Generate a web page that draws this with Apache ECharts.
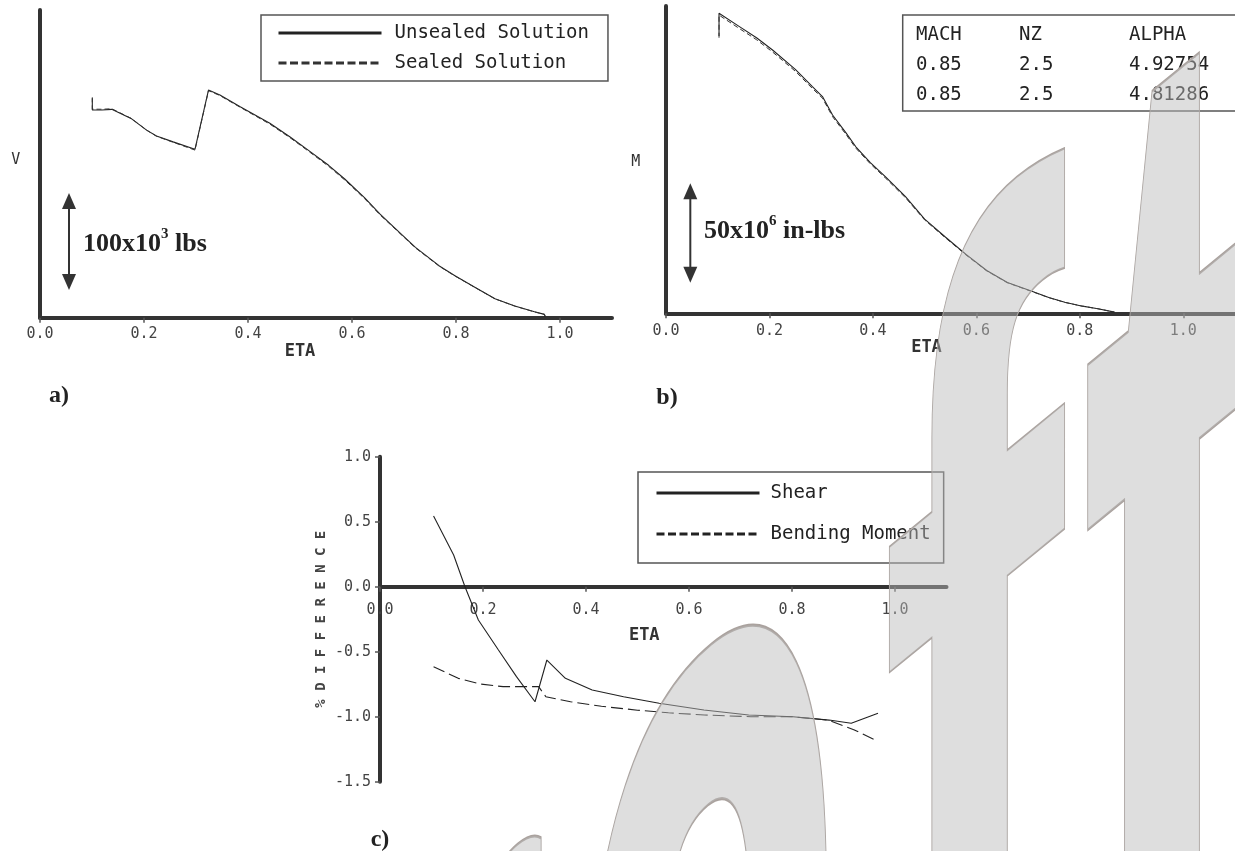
<!DOCTYPE html>
<html><head><meta charset="utf-8">
<script src="https://cdn.jsdelivr.net/npm/echarts@6/dist/echarts.min.js"></script>
<style>html,body{margin:0;padding:0;background:#fff}#c{width:1235px;height:851px}</style>
</head><body><div id="c"></div>
<script>
// ---- data ----
const xTickVals = [0, 0.2, 0.4, 0.6, 0.8, 1.0];

// a) shear V (10^3 lbs) vs ETA
const etaV = [0.1006,0.1006,0.119,0.138,0.175,0.205,0.224,0.256,0.298,0.324,0.346,0.385,0.442,0.481,0.517,0.555,0.586,0.624,0.654,0.684,0.722,0.768,0.798,0.837,0.875,0.913,0.951,0.970,0.972];
const vUnsealed = [224.6,212.6,212.6,213.3,204,192,186,180,172.4,233,228,216,199,185,171,156,142,123,106,91,72,53,43,31,19.5,12,6,3.4,0.7];
const vSealed   = [225.6,213.5,213.4,213.9,204.2,192.0,185.8,179.6,171.6,232.4,227.4,215.4,198.2,184.2,170.2,155.0,141.0,122.0,105.2,90.3,71.4,52.6,42.7,30.8,19.3,11.9,5.9,3.4,0.7];

// b) bending moment M (10^6 in-lbs) vs ETA
const etaM = [0.1025,0.1025,0.142,0.175,0.206,0.25,0.283,0.3025,0.322,0.348,0.367,0.395,0.424,0.463,0.5,0.54,0.58,0.62,0.66,0.706,0.74,0.771,0.805,0.835,0.867];
const mUnsealed = [139.9,151.3,144.6,139,132.8,123,114.3,109.3,100,91,84,76,68.9,58.8,47.5,38.5,29.7,21.6,15.5,11.2,8,5.6,3.6,2.3,0.6];
const mSealed   = [139.0,150.4,143.6,138.0,131.8,122.1,113.4,108.5,99.2,90.2,83.3,75.4,68.3,58.3,47.1,38.1,29.4,21.4,15.4,11.1,7.9,5.5,3.6,2.3,0.6];

// c) % difference
const etaShear = [0.104,0.143,0.165,0.191,0.230,0.265,0.301,0.324,0.36,0.412,0.473,0.542,0.629,0.716,0.802,0.872,0.915,0.967];
const shearDiff = [0.544,0.244,0.0,-0.256,-0.487,-0.692,-0.885,-0.564,-0.705,-0.795,-0.846,-0.897,-0.949,-0.987,-1.0,-1.026,-1.051,-0.974];
const etaBend = [0.104,0.152,0.195,0.239,0.308,0.322,0.37,0.43,0.5,0.56,0.63,0.72,0.8,0.87,0.92,0.967];
const bendDiff = [-0.615,-0.705,-0.749,-0.769,-0.769,-0.846,-0.885,-0.92,-0.95,-0.97,-0.987,-1.0,-1.0,-1.026,-1.10,-1.19];

// flight condition table
const tableHead = ['MACH', 'NZ', 'ALPHA'];
const tableRows = [['0.85', '2.5', '4.92754'], ['0.85', '2.5', '4.81286']];

// scale bar annotations (data coordinates)
const scaleA = { eta: 0.0558, from: 28.4, to: 127.6 };
const scaleB = { eta: 0.047, from: 15.4, to: 65.6 };

// watermark letters (visible part of "Draft")
const wmLetters = ['r', 'a', 'f', 't'];

// ---- chart ----
const zip = (xs, ys) => xs.map((x, i) => [x, ys[i]]);
const MONO = '"DejaVu Sans Mono", monospace';
const SERIF = '"Liberation Serif", "Times New Roman", serif';
const AX = '#333';

function xAxisCfg(gi, nameGap, shift, margin, offset) {
  return {
    type: 'value', gridIndex: gi, min: 0, max: 1.1, offset: offset || 0,
    axisLine: { onZero: false, lineStyle: { color: AX, width: 4 } },
    axisTick: { customValues: xTickVals, length: 5, lineStyle: { color: '#555', width: 1.5 } },
    axisLabel: { customValues: xTickVals, formatter: v => v.toFixed(1), fontFamily: MONO, fontSize: 15, color: '#444', margin: margin },
    splitLine: { show: false },
    name: 'ETA', nameLocation: 'middle', nameGap: nameGap,
    nameTextStyle: { fontFamily: MONO, fontSize: 17, fontWeight: 'bold', color: '#333', padding: [0, shift, 0, 0] }
  };
}
function yAxisPlain(gi, max) {
  return {
    type: 'value', gridIndex: gi, min: 0, max: max,
    axisLine: { show: true, onZero: false, lineStyle: { color: AX, width: 4 } },
    axisTick: { show: false }, axisLabel: { show: false }, splitLine: { show: false }
  };
}
const lineSolid = { color: '#222', width: 1.1 };
const legendCommon = {
  orient: 'vertical', itemWidth: 103, itemHeight: 14, selectedMode: false,
  borderColor: '#555', borderWidth: 1.5, backgroundColor: '#fff',
  lineStyle: { width: 3 }, itemStyle: { opacity: 0 }
};

const option = {
  backgroundColor: '#fff',
  animation: false,
  grid: [
    { left: 40, top: 10, width: 572, height: 307.7 },
    { left: 666, top: 6, width: 572, height: 307.3 },
    { left: 380, top: 456.7, width: 566.5, height: 325 }
  ],
  xAxis: [xAxisCfg(0, 24, 52, 9), xAxisCfg(1, 26, 48, 10), xAxisCfg(2, 40, 38, 16, -195)],
  yAxis: [
    yAxisPlain(0, 315),
    yAxisPlain(1, 155),
    {
      type: 'value', gridIndex: 2, min: -1.5, max: 1.0, interval: 0.5,
      axisLine: { show: true, onZero: false, lineStyle: { color: AX, width: 4 } },
      axisTick: { show: true, length: 5, lineStyle: { color: '#555', width: 1.5 } },
      axisLabel: { formatter: v => v.toFixed(1), fontFamily: MONO, fontSize: 15, color: '#444', margin: 9 },
      splitLine: { show: false },
      name: '% D I F F E R E N C E', nameLocation: 'middle', nameGap: 52, nameRotate: 90,
      nameTextStyle: { fontFamily: MONO, fontSize: 14, fontWeight: 'bold', color: '#444' }
    }
  ],
  legend: [
    Object.assign({}, legendCommon, {
      data: ['Unsealed Solution', { name: 'Sealed Solution', lineStyle: { type: [8, 3.5] } }],
      left: 261, top: 15, padding: [8, 19, 8, 16], itemGap: 10,
      textStyle: { fontFamily: MONO, fontSize: 19, color: '#222', lineHeight: 20, padding: [0, 0, 0, 8] }
    }),
    Object.assign({}, legendCommon, {
      data: ['Shear', { name: 'Bending Moment', lineStyle: { type: [8, 3.5] } }],
      left: 638, top: 472, padding: [11, 13, 19, 17], itemGap: 21,
      textStyle: { fontFamily: MONO, fontSize: 19, color: '#222', lineHeight: 20, padding: [0, 0, 0, 6] }
    })
  ],
  series: [
    { type: 'line', name: 'Unsealed Solution', xAxisIndex: 0, yAxisIndex: 0, data: zip(etaV, vUnsealed), symbol: 'none', itemStyle: { color: '#222' }, lineStyle: lineSolid },
    { type: 'line', name: 'Sealed Solution', xAxisIndex: 0, yAxisIndex: 0, data: zip(etaV, vSealed), symbol: 'none', itemStyle: { color: '#222' }, lineStyle: { color: '#333', width: 1, type: [5, 3] } },
    { type: 'line', name: 'Unsealed Solution', xAxisIndex: 1, yAxisIndex: 1, data: zip(etaM, mUnsealed), symbol: 'none', itemStyle: { color: '#222' }, lineStyle: lineSolid },
    { type: 'line', name: 'Sealed Solution', xAxisIndex: 1, yAxisIndex: 1, data: zip(etaM, mSealed), symbol: 'none', itemStyle: { color: '#222' }, lineStyle: { color: '#333', width: 1, type: [5, 3] } },
    { type: 'line', name: 'Shear', xAxisIndex: 2, yAxisIndex: 2, data: zip(etaShear, shearDiff), symbol: 'none', itemStyle: { color: '#222' }, lineStyle: lineSolid },
    { type: 'line', name: 'Bending Moment', xAxisIndex: 2, yAxisIndex: 2, data: zip(etaBend, bendDiff), symbol: 'none', itemStyle: { color: '#222' }, lineStyle: { color: '#222', width: 1.1, type: [12, 5] } }
  ]
};

const chart = echarts.init(document.getElementById('c'), null, { renderer: 'canvas' });
chart.setOption(option);

// annotations positioned from data coordinates
function arrowBar(gi, s) {
  const p0 = chart.convertToPixel({ gridIndex: gi }, [s.eta, s.from]);
  const p1 = chart.convertToPixel({ gridIndex: gi }, [s.eta, s.to]);
  const x = p0[0], yb = p0[1], yt = p1[1], hw = 7, hh = 16;
  return [
    { type: 'line', shape: { x1: x, y1: yt + hh - 2, x2: x, y2: yb - hh + 2 }, style: { stroke: '#333', lineWidth: 2 } },
    { type: 'polygon', shape: { points: [[x, yt], [x - hw, yt + hh], [x + hw, yt + hh]] }, style: { fill: '#333' } },
    { type: 'polygon', shape: { points: [[x, yb], [x - hw, yb - hh], [x + hw, yb - hh]] }, style: { fill: '#333' } }
  ];
}
const rich = {
  n: { fontFamily: SERIF, fontSize: 26, fontWeight: 'bold', fill: '#222', lineHeight: 30, verticalAlign: 'bottom' },
  s: { fontFamily: SERIF, fontSize: 15, fontWeight: 'bold', fill: '#222', lineHeight: 30, verticalAlign: 'top' }
};
const txt = (x, y, t, st) => ({ type: 'text', x: x, y: y, style: Object.assign({ text: t, fill: '#333', fontFamily: MONO, fontSize: 15, align: 'center', verticalAlign: 'middle' }, st || {}) });

const graphics = [].concat(
  arrowBar(0, scaleA), arrowBar(1, scaleB),
  [
    { type: 'text', x: 83, y: 242, style: { text: '{n|100x10}{s|3}{n| lbs}', rich: rich, verticalAlign: 'middle' } },
    { type: 'text', x: 704, y: 229, style: { text: '{n|50x10}{s|6}{n| in-lbs}', rich: rich, verticalAlign: 'middle' } },
    txt(15.8, 160, 'V'),
    txt(635.7, 161.7, 'M'),
    txt(59, 396, 'a)', { fontFamily: SERIF, fontSize: 24, fontWeight: 'bold', fill: '#222' }),
    txt(667, 398, 'b)', { fontFamily: SERIF, fontSize: 24, fontWeight: 'bold', fill: '#222' }),
    txt(380, 840, 'c)', { fontFamily: SERIF, fontSize: 24, fontWeight: 'bold', fill: '#222' }),
    { type: 'rect', shape: { x: 902.7, y: 15, width: 345, height: 96 }, style: { fill: '#fff', stroke: '#555', lineWidth: 1.5 } }
  ]
);
const colX = [916, 1019, 1129], rowY = [35, 65, 95];
[tableHead].concat(tableRows).forEach((row, r) => row.forEach((t, c) => {
  graphics.push(txt(colX[c], rowY[r], t, { align: 'left', fontSize: 19, fill: '#222' }));
}));

// "Draft" watermark: huge bold text, condensed and vertically skewed
const WM_F = 1780, WM_SX = 551 / 1780, WM_K = 0.82, WM_C = 979;
const wmPlace = [ // per-letter placement (origin x, vertical nudge, vertical scale)
  { x: 335, dy: 30, sy: 1 },
  { x: 557, dy: -12, sy: 1 },
  { x: 880, dy: -88.5, sy: 0.76 },
  { x: 1081, dy: 0, sy: 1 }
];
wmLetters.forEach((L, i) => {
  const p = wmPlace[i];
  const Y = WM_C - WM_K * (p.x - 887) + p.dy;
  graphics.push({
    type: 'text', x: p.x, y: Y, scaleX: WM_SX, scaleY: p.sy, skewY: Math.atan(WM_K),
    silent: true, z: 100,
    style: { text: L, x: 0, y: 0, fontFamily: '"Liberation Sans", Arial, sans-serif', fontWeight: 'bold', fontSize: WM_F,
      align: 'left', verticalAlign: 'middle', fill: 'rgba(185,185,185,0.48)', stroke: '#aaa29e', lineWidth: 3 }
  });
});
chart.setOption({ graphic: graphics });
</script></body></html>
